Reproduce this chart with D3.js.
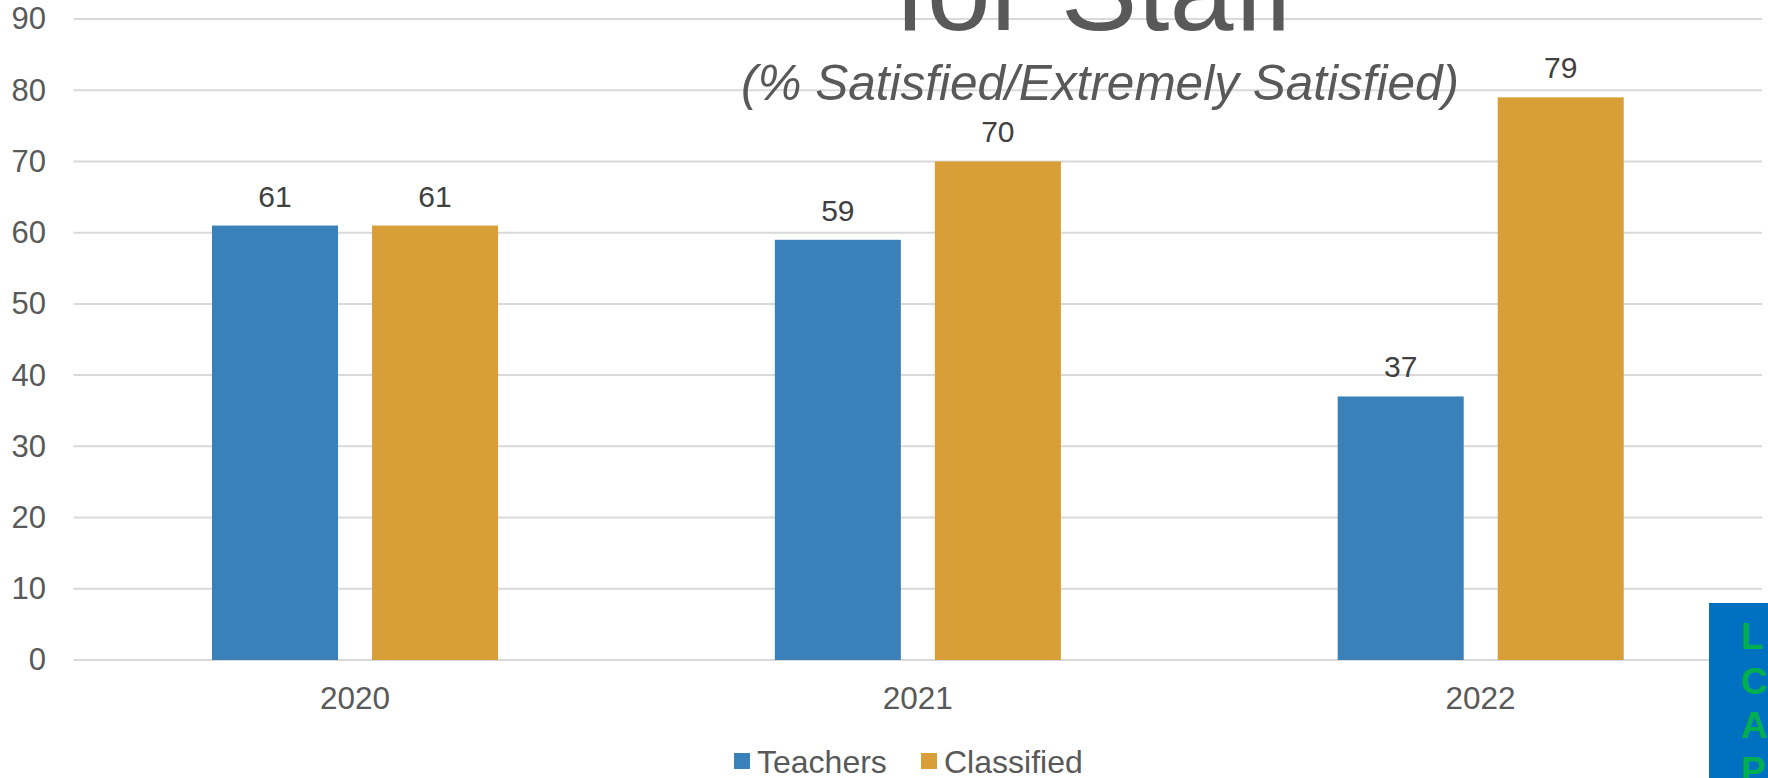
<!DOCTYPE html>
<html>
<head>
<meta charset="utf-8">
<script src="https://cdn.jsdelivr.net/npm/d3@7"></script>
<style>
  html, body { margin: 0; padding: 0; background: #fff; overflow: hidden; }
  svg { display: block; font-family: Arial, "Liberation Sans", sans-serif; }
</style>
</head>
<body>
<svg id="chart" width="1768" height="778"></svg>
<script>
const years = ["2020", "2021", "2022"];
const seriesNames = ["Teachers", "Classified"];
const teachers = [61, 59, 37];
const classified = [61, 70, 79];
const yTicks = [0, 10, 20, 30, 40, 50, 60, 70, 80, 90];
const titleText = "for Staff";
const subtitleText = "(% Satisfied/Extremely Satisfied)";
const badgeLetters = ["L", "C", "A", "P"];

const colors = { Teachers: "#3A80B9", Classified: "#D89E38" };
const series = [teachers, classified];

const svg = d3.select("#chart");
const plot = { left: 73.5, right: 1762, top: 19, bottom: 660 };

const x0 = d3.scaleBand().domain(years).range([plot.left, plot.right]).padding(0);
const step = x0.bandwidth();
const x1 = d3.scaleBand().domain(seriesNames)
  .range([step * 0.2461, step * 0.7543]).paddingInner(0.2125).paddingOuter(0);
const y = d3.scaleLinear().domain([0, 90]).range([plot.bottom, plot.top]);

// gridlines
svg.append("g").selectAll("line").data(yTicks).join("line")
  .attr("x1", plot.left).attr("x2", plot.right)
  .attr("y1", d => y(d)).attr("y2", d => y(d))
  .attr("stroke", "#D9D9D9").attr("stroke-width", 2);

// y axis labels
const yAxis = d3.axisLeft(y).tickValues(yTicks).tickSize(0).tickPadding(0);
const gy = svg.append("g").attr("transform", "translate(46,0)").call(yAxis);
gy.select(".domain").remove();
gy.selectAll("text").attr("font-size", 31).attr("fill", "#595959")
  .attr("font-family", "Arial, 'Liberation Sans', sans-serif");

// x axis labels
const xAxis = d3.axisBottom(x0).tickSize(0).tickPadding(0);
const gx = svg.append("g").attr("transform", "translate(0,687)").call(xAxis);
gx.select(".domain").remove();
gx.selectAll("text").attr("font-size", 31.5).attr("fill", "#595959")
  .attr("dy", "0.71em")
  .attr("font-family", "Arial, 'Liberation Sans', sans-serif");

// title (only bottom line visible)
svg.append("text").attr("x", 1095).attr("y", 30).attr("text-anchor", "middle")
  .attr("font-size", 115).attr("fill", "#595959").text(titleText);
svg.append("text").attr("x", 1100).attr("y", 100).attr("text-anchor", "middle")
  .attr("font-size", 49.5).attr("font-style", "italic").attr("fill", "#595959").text(subtitleText);

// bars
const groups = svg.append("g").selectAll("g").data(years).join("g")
  .attr("transform", d => `translate(${x0(d)},0)`);
groups.selectAll("rect").data((d, i) => seriesNames.map((s, j) => ({ s, v: series[j][i] })))
  .join("rect")
  .attr("x", d => x1(d.s)).attr("width", x1.bandwidth())
  .attr("y", d => y(d.v)).attr("height", d => y(0) - y(d.v))
  .attr("fill", d => colors[d.s]);
groups.selectAll("text").data((d, i) => seriesNames.map((s, j) => ({ s, v: series[j][i] })))
  .join("text")
  .attr("x", d => x1(d.s) + x1.bandwidth() / 2)
  .attr("y", d => y(d.v) - 19)
  .attr("text-anchor", "middle").attr("font-size", 30).attr("fill", "#404040")
  .text(d => d.v);

// legend
const legend = svg.append("g");
const legendX = [734, 921];
seriesNames.forEach((s, i) => {
  legend.append("rect").attr("x", legendX[i]).attr("y", 753).attr("width", 16).attr("height", 16)
    .attr("fill", colors[s]);
  legend.append("text").attr("x", legendX[i] + 23).attr("y", 772.5)
    .attr("font-size", 32).attr("fill", "#595959").text(s);
});

// LCAP badge
svg.append("rect").attr("x", 1709).attr("y", 603).attr("width", 80).attr("height", 200)
  .attr("fill", "#0070C0");
svg.append("g").selectAll("text").data(badgeLetters).join("text")
  .attr("x", 1741).attr("y", (d, i) => 649 + i * 44.5)
  .attr("font-size", 37).attr("font-weight", "bold").attr("fill", "#00B050")
  .text(d => d);
</script>
</body>
</html>
